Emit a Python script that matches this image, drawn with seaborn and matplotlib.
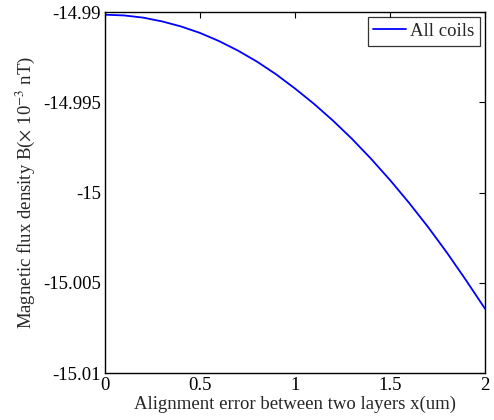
import numpy as np
import pandas as pd
import matplotlib
matplotlib.use("Agg")
import matplotlib.pyplot as plt
import seaborn as sns

# Alignment error (um) and resulting flux density (x 1e-3 nT)
x_um = [0.0, 0.1, 0.2, 0.3, 0.4, 0.5, 0.6, 0.7, 0.8, 0.9, 1.0,
        1.1, 1.2, 1.3, 1.4, 1.5, 1.6, 1.7, 1.8, 1.9, 2.0]
b_all = [-14.99015, -14.99019, -14.99031, -14.99052, -14.99080, -14.99116,
         -14.99161, -14.99214, -14.99275, -14.99345, -14.99424, -14.99509,
         -14.99602, -14.99703, -14.99813, -14.99931, -15.00057, -15.00191,
         -15.00334, -15.00486, -15.00644]
series_name = "All coils"

x_ticks = [0, 0.5, 1, 1.5, 2]
x_tick_labels = ["0", "0.5", "1", "1.5", "2"]
y_ticks = [-15.01, -15.005, -15.0, -14.995, -14.99]
y_tick_labels = ["-15.01", "-15.005", "-15", "-14.995", "-14.99"]

sns.set_style("white")
plt.rcParams["font.family"] = ["Liberation Serif", "DejaVu Serif"]
plt.rcParams["mathtext.fontset"] = "stix"

df = pd.DataFrame({"x": x_um, "B": b_all, "series": series_name})

fig = plt.figure(figsize=(4.94, 4.20), dpi=100)
ax = fig.add_axes([0.2126, 0.1119, 0.7692, 0.8595])

sns.lineplot(data=df, x="x", y="B", hue="series", palette=["#0000ff"],
             linewidth=1.3, ax=ax)

ax.set_xlim(0, 2)
ax.set_ylim(-15.01, -14.99)
ax.set_xticks(x_ticks)
ax.set_xticklabels(x_tick_labels)
ax.set_yticks(y_ticks)
ax.set_yticklabels(y_tick_labels)

ax.tick_params(direction="in", length=4, width=0.8, labelsize=13.5,
               top=True, right=True, colors="black", pad=3)
for s in ax.spines.values():
    s.set_visible(True)
    s.set_color("black")
    s.set_linewidth(1.0)

ax.set_xlabel("Alignment error between two layers x(um)", fontsize=13.5, labelpad=1)
ax.set_ylabel(r"Magnetic flux density B($\times$ 10$^{-3}$ nT)", fontsize=13.5, labelpad=4)

leg = ax.legend(loc="upper right", fontsize=13.5, frameon=True, fancybox=False,
                borderpad=0.3, handlelength=1.75, handletextpad=0.2,
                borderaxespad=0.28)
leg.get_frame().set_edgecolor("black")
leg.get_frame().set_linewidth(0.9)

fig.savefig("out.png", dpi=100)
